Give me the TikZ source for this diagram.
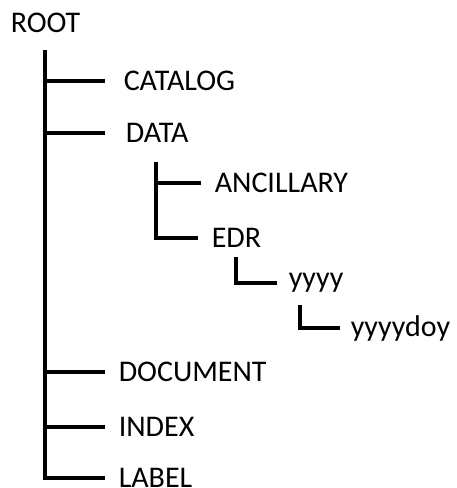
\documentclass[tikz,border=0pt]{standalone}
\usepackage{fontspec}
\setmainfont{Carlito}
\tikzset{
  folder/.style={anchor=west, inner xsep=12pt, inner ysep=0pt, font=\fontsize{30}{36}\selectfont},
}
\begin{document}
\begin{tikzpicture}[x=1pt, y=-1pt, line width=3.5pt]
    \useasboundingbox (0,0) rectangle (456,488);
    \node[folder, inner xsep=0pt] (root) at (9,22.5) {ROOT};
    \node[folder, inner xsep=17pt] (catalog) at (105,81) {CATALOG};
    \node[folder, inner xsep=19pt] (data) at (105,133) {DATA};
    \node[folder] (ancillary) at (201,183) {ANCILLARY};
    \node[folder] (edr) at (198,238) {EDR};
    \node[folder, inner xsep=10pt] (yyyy) at (277,283) {yyyy};
    \node[folder, inner xsep=9pt] (doy) at (340,328) {yyyydoy};
    \node[folder] (document) at (105,372) {DOCUMENT};
    \node[folder] (index) at (105,427) {INDEX};
    \node[folder] (lab) at (105,478) {LABEL};
    \coordinate (trunk) at (45,50);
    \coordinate (datastem) at (156,162);
    \coordinate (edrstem) at (236,257);
    \coordinate (yyyystem) at (300,305);
    \foreach \n in {catalog,data,document,index,lab}{
            \draw (trunk) |- (\n);
        }
    \foreach \n in {ancillary,edr}{
            \draw (datastem) |- (\n);
        }
    \draw (edrstem) |- (yyyy);
    \draw (yyyystem) |- (doy);
\end{tikzpicture}
\end{document}
